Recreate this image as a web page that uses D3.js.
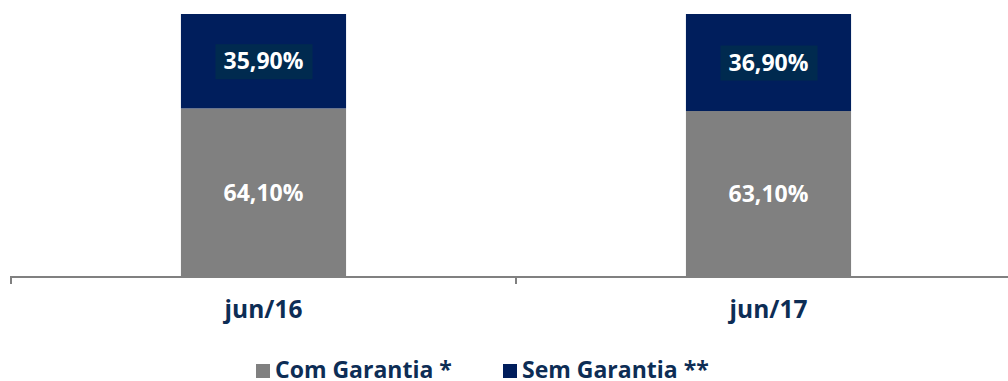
<!DOCTYPE html>
<html lang="pt">
<head>
    <meta charset="UTF-8">
    <title>Com / Sem Garantia</title>
    <script src="https://cdnjs.cloudflare.com/ajax/libs/d3/7.8.5/d3.min.js"></script>
    <style>
        body { margin: 0; background: #fff; }
        text { font-family: "Open Sans", sans-serif; font-weight: bold; }
    </style>
</head>
<body>
<div id="chart"></div>
<script>
    // dados
    var categories = ["jun/16", "jun/17"];
    var comGarantia = [64.10, 63.10];
    var semGarantia = [35.90, 36.90];
    var seriesNames = ["Com Garantia *", "Sem Garantia **"];
    var seriesColors = ["#808080", "#001e5c"];

    var W = 1008, H = 381;

    var svg = d3.select("#chart")
        .append("svg")
        .attr("width", W)
        .attr("height", H);

    var x = d3.scaleBand()
        .domain(categories)
        .range([11, 1021])
        .padding(0);

    var barW = x.bandwidth() * 0.327;

    var y = d3.scaleLinear()
        .domain([0, 100])
        .range([277, 14]);

    var fmt = function (v) { return v.toFixed(2).replace(".", ",") + "%"; };

    var rows = categories.map(function (c, i) {
        return { cat: c, com: comGarantia[i], sem: semGarantia[i] };
    });

    var g = svg.append("g");

    // barras com garantia (base)
    g.selectAll("rect.com")
        .data(rows)
        .enter().append("rect")
        .attr("class", "com")
        .attr("x", function (d) { return x(d.cat) + (x.bandwidth() - barW) / 2; })
        .attr("y", function (d) { return y(d.com); })
        .attr("width", barW)
        .attr("height", function (d) { return y(0) - y(d.com); })
        .attr("fill", seriesColors[0]);

    // barras sem garantia (topo)
    g.selectAll("rect.sem")
        .data(rows)
        .enter().append("rect")
        .attr("class", "sem")
        .attr("x", function (d) { return x(d.cat) + (x.bandwidth() - barW) / 2; })
        .attr("y", function (d) { return y(d.com + d.sem); })
        .attr("width", barW)
        .attr("height", function (d) { return y(d.com) - y(d.com + d.sem); })
        .attr("fill", seriesColors[1]);

    // rótulos com garantia
    g.selectAll("text.lcom")
        .data(rows)
        .enter().append("text")
        .attr("class", "lcom")
        .attr("x", function (d) { return x(d.cat) + x.bandwidth() / 2; })
        .attr("y", function (d) { return (y(0) + y(d.com)) / 2 + 8; })
        .attr("text-anchor", "middle")
        .attr("font-size", 23)
        .attr("fill", "#fff")
        .text(function (d) { return fmt(d.com); });

    // rótulos sem garantia, com caixa
    var lsem = g.selectAll("g.lsem")
        .data(rows)
        .enter().append("g")
        .attr("class", "lsem")
        .attr("transform", function (d) {
            return "translate(" + (x(d.cat) + x.bandwidth() / 2) + "," + ((y(d.com) + y(d.com + d.sem)) / 2) + ")";
        });
    lsem.append("rect")
        .attr("x", -48)
        .attr("y", -17)
        .attr("width", 97)
        .attr("height", 35)
        .attr("fill", "#002a4f");
    lsem.append("text")
        .attr("text-anchor", "middle")
        .attr("y", 8)
        .attr("font-size", 23)
        .attr("fill", "#fff")
        .text(function (d) { return fmt(d.sem); });

    // eixo x
    var axis = svg.append("g")
        .attr("transform", "translate(0," + y(0) + ")")
        .call(d3.axisBottom(x).tickSize(0).tickPadding(0).tickFormat(""));
    axis.select(".domain").remove();
    axis.append("line")
        .attr("x1", 11).attr("x2", 1008)
        .attr("stroke", "#808080").attr("stroke-width", 2);
    var tickPos = [x.range()[0]].concat(categories.slice(1).map(function (c) { return x(c); }));
    axis.selectAll("line.tk")
        .data(tickPos)
        .enter().append("line")
        .attr("class", "tk")
        .attr("x1", function (d) { return d; })
        .attr("x2", function (d) { return d; })
        .attr("y1", -1).attr("y2", 7)
        .attr("stroke", "#808080").attr("stroke-width", 2);

    svg.selectAll("text.cat")
        .data(categories)
        .enter().append("text")
        .attr("class", "cat")
        .attr("x", function (d) { return x(d) + x.bandwidth() / 2; })
        .attr("y", 318)
        .attr("text-anchor", "middle")
        .attr("font-size", 24.5)
        .attr("fill", "#0d2d55")
        .text(function (d) { return d; });

    // legenda
    var legX = [256, 503];
    var leg = svg.selectAll("g.leg")
        .data(seriesNames)
        .enter().append("g")
        .attr("class", "leg")
        .attr("transform", function (d, i) { return "translate(" + legX[i] + ",364)"; });
    leg.append("rect")
        .attr("width", 14).attr("height", 14)
        .attr("fill", function (d, i) { return seriesColors[i]; });
    leg.append("text")
        .attr("x", 19)
        .attr("y", 14)
        .attr("font-size", 23)
        .attr("fill", "#0d2d55")
        .text(function (d) { return d; });
</script>
</body>
</html>
